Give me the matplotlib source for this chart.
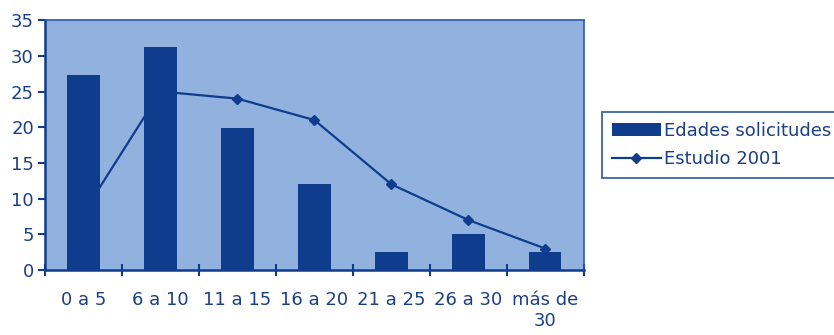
import matplotlib.pyplot as plt
import numpy as np

categorias = ['0 a 5', '6 a 10', '11 a 15', '16 a 20', '21 a 25', '26 a 30', 'más de\n30']
edades_solicitudes = [27.3, 31.3, 19.9, 12.1, 2.5, 5.0, 2.5]
estudio_2001 = [8, 25, 24, 21, 12, 7, 3]

azul = '#0f3c8c'
texto = '#1b3f86'
fondo = '#91b2de'

plt.rcParams['font.family'] = ['DejaVu Sans']

fig = plt.figure(figsize=(8.34, 3.35), dpi=100)
ax = fig.add_axes([0.054, 0.194, 0.646, 0.746])
ax.set_facecolor(fondo)

x = np.arange(len(categorias))
barras = ax.bar(x, edades_solicitudes, width=0.42, color=azul, zorder=2)
linea, = ax.plot(x, estudio_2001, color=azul, lw=1.6, marker='D', ms=5.5, zorder=3)

ax.set_xlim(-0.5, len(categorias) - 0.5)
ax.set_ylim(0, 35)
ax.set_yticks(range(0, 36, 5))
ax.set_xticks(x)
ax.set_xticklabels(categorias, fontsize=13, color=texto, linespacing=1.2, va='top')
ax.set_xticks(np.arange(-0.5, len(categorias), 1), minor=True)
ax.tick_params(axis='x', which='major', length=0, pad=15)
ax.tick_params(axis='x', which='minor', length=8, width=1.5, color=azul, direction='inout')
ax.tick_params(axis='y', length=5, width=1.5, color=azul, labelsize=13, labelcolor=texto, pad=3)

for side in ['left', 'bottom']:
    ax.spines[side].set_color(azul)
    ax.spines[side].set_linewidth(1.8)
for side in ['top', 'right']:
    ax.spines[side].set_color('#2b5aa8')
    ax.spines[side].set_linewidth(1.2)

leg = fig.legend([barras, linea], ['Edades solicitudes', 'Estudio 2001'],
                 loc='center left', bbox_to_anchor=(0.722, 0.567), frameon=True,
                 fancybox=False, fontsize=13, handlelength=2.7, handletextpad=0.15,
                 borderpad=0.55, labelspacing=0.6, borderaxespad=0)
leg.get_frame().set_edgecolor(azul)
leg.get_frame().set_linewidth(1.3)
for t in leg.get_texts():
    t.set_color(texto)

fig.savefig('out.png', dpi=100)
